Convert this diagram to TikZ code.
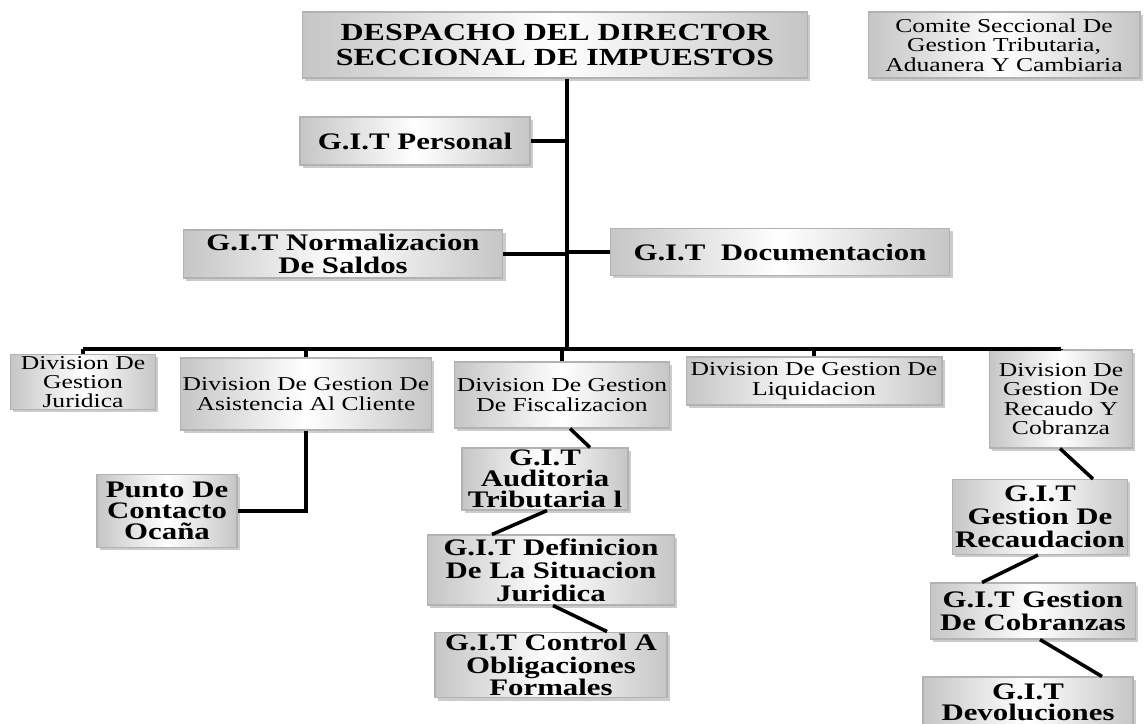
\documentclass[tikz,border=0pt]{standalone}
\usepackage{fontspec}
\setmainfont[FakeStretch=1.3]{Liberation Serif}
\usetikzlibrary{shadows,
                calc}

\begin{document}
\begin{tikzpicture}[x=0.02cm, y=-0.02cm,
  box/.style={rectangle, draw=gray!60, line width=0.6pt,
              left color=gray!45, right color=gray!45, middle color=white,
              drop shadow={shadow xshift=1.5pt, shadow yshift=-1.5pt, opacity=0.4},
              align=center, inner sep=1pt,
              font=\bfseries\fontsize{13.5}{13}\selectfont},
  small/.style={box, font=\fontsize{11.2}{11}\selectfont},
  link/.style={line width=2.2pt},
  slant/.style={line width=2pt}]
\clip (0,0) rectangle (1144,724);

%%% top
\node (despacho) [box, minimum width=10.1cm, minimum height=1.32cm, font=\bfseries\fontsize{14}{14}\selectfont] at (555,45) {DESPACHO DEL DIRECTOR\\SECCIONAL DE IMPUESTOS};
\node (comite) [small, minimum width=5.44cm, minimum height=1.32cm] at (1004,45) {Comite Seccional De\\Gestion Tributaria,\\Aduanera Y Cambiaria};

%%% staff
\node (personal) [box, minimum width=4.6cm, minimum height=0.96cm] at (415,141) {G.I.T Personal};
\node (saldos) [box, minimum width=6.4cm, minimum height=0.96cm] at (343,254) {G.I.T Normalizacion\\De Saldos};
\node (docu) [box, minimum width=6.8cm, minimum height=0.94cm] at (780,252) {G.I.T\ \ Documentacion};

%%% divisions
\node (juridica) [small, minimum width=2.9cm, minimum height=1.1cm] at (83,382) {Division De\\Gestion\\Juridica};
\node (asist) [small, minimum width=4.94cm, minimum height=1.44cm] at (306,394) {Division De Gestion De\\Asistencia Al Cliente};
\node (fiscal) [small, minimum width=4.3cm, minimum height=1.32cm] at (562,395) {Division De Gestion\\De Fiscalizacion};
\node (liquid) [small, minimum width=5.12cm, minimum height=0.96cm] at (814,381) {Division De Gestion De\\Liquidacion};
\node (recaudo) [small, minimum width=2.86cm, minimum height=1.96cm] at (1061,399) {Division De\\Gestion De\\Recaudo Y\\Cobranza};

%%% groups
\node (punto) [box, minimum width=2.8cm, minimum height=1.46cm, font=\bfseries\fontsize{13.5}{12}\selectfont] at (167,511) {Punto De\\Contacto\\Ocaña};
\node (audit) [box, minimum width=3.32cm, minimum height=1.24cm, font=\bfseries\fontsize{13.5}{12}\selectfont] at (545,479) {G.I.T\\Auditoria\\Tributaria l};
\node (defin) [box, minimum width=4.94cm, minimum height=1.4cm] at (551,570) {G.I.T Definicion\\De La Situacion\\Juridica};
\node (control) [box, minimum width=4.64cm, minimum height=1.3cm] at (551,665) {G.I.T Control A\\Obligaciones\\Formales};
\node (recaud) [box, minimum width=3.5cm, minimum height=1.5cm] at (1040,517) {G.I.T\\Gestion De\\Recaudacion};
\node (cobra) [box, minimum width=4.1cm, minimum height=1.12cm] at (1033,611) {G.I.T Gestion\\De Cobranzas};
\node (devol) [box, minimum width=4.2cm, minimum height=1.0cm, font=\bfseries\fontsize{13.5}{12}\selectfont] at (1028,702) {G.I.T\\Devoluciones};

%%% connectors
\coordinate (bus) at (567,349);
\draw [line width=2.6pt] (despacho.south -| bus) -- (bus);
\draw [link] (personal.east) -- (personal.east -| bus);
\draw [link] (saldos.east) -- (saldos.east -| bus);
\draw [link] (docu.west) -- (docu.west -| bus);
\draw [link] (juridica.north |- bus) -- (recaudo.north |- bus);
\foreach \n in {juridica,asist,fiscal,liquid,recaudo}
    \draw [link] (\n.north |- bus) -- (\n.north);
\draw [link] (asist.south) |- (punto.east);
\draw [slant] ($(fiscal.south)+(8,0)$) -- ($(audit.north)+(45,0)$);
\draw [slant] ($(audit.south)+(2,0)$) -- ($(defin.north)+(-59,0)$);
\draw [slant] ($(defin.south)+(2,0)$) -- ($(control.north)+(56,0)$);
\draw [slant] ($(recaudo.south)+(-1,0)$) -- ($(recaud.north)+(53,0)$);
\draw [slant] ($(recaud.south)+(-2,0)$) -- ($(cobra.north)+(-51,0)$);
\draw [slant] ($(cobra.south)+(7,0)$) -- ($(devol.north)+(74,0)$);
\end{tikzpicture}
\end{document}
